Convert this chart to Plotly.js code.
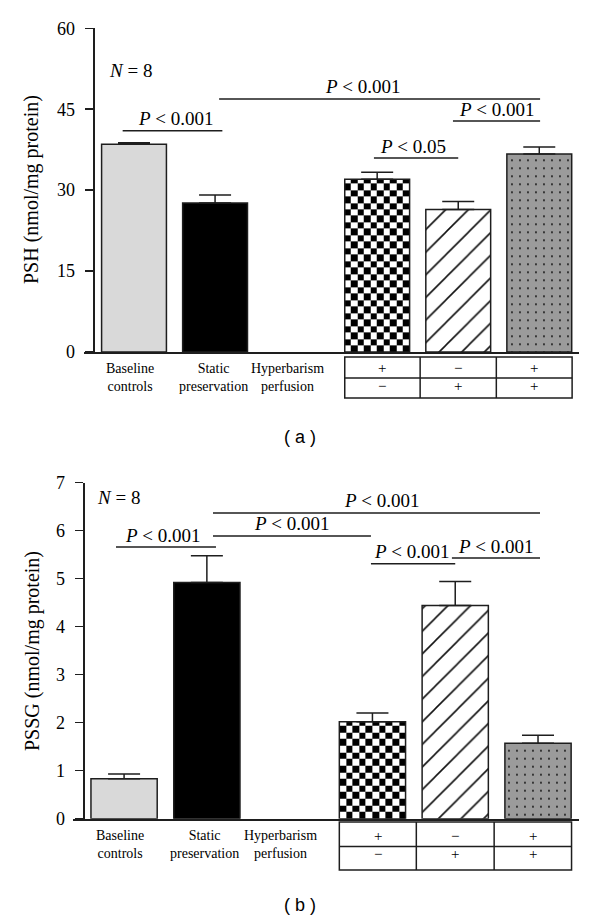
<!DOCTYPE html>
<html><head><meta charset="utf-8">
<script src="https://cdn.plot.ly/plotly-3.0.1.min.js"></script>
<style>html,body{margin:0;padding:0;background:#fff}#chart{width:600px;height:921px}</style>
</head><body><div id="chart"></div>
<script>
// ---------------- data ----------------
const groupLabels = ['Baseline<br>controls', 'Static<br>preservation', 'Hyperbarism<br>perfusion'];
const hyperbarismRow = ['+', '\u2212', '+'];
const perfusionRow = ['\u2212', '+', '+'];
const barIndex = [0, 1, 2, 3, 4, 5];
const pshMean = [38.5, 27.6, null, 32.0, 26.4, 36.7];
const pshSem  = [0.3, 1.5, null, 1.3, 1.5, 1.3];
const pssgMean = [0.83, 4.92, null, 2.02, 4.44, 1.57];
const pssgSem  = [0.10, 0.56, null, 0.18, 0.50, 0.17];
const pshTicks = [0, 15, 30, 45, 60];
const pssgTicks = [0, 1, 2, 3, 4, 5, 6, 7];
const pshComparisons = ['P < 0.001', 'P < 0.001', 'P < 0.001', 'P < 0.05'];
const pssgComparisons = ['P < 0.001', 'P < 0.001', 'P < 0.001', 'P < 0.001', 'P < 0.001'];

// ---------------- layout constants ----------------
const W = 600, H = 921;
const SERIF = "'Liberation Serif', 'Times New Roman', serif";
const INK = '#1e1e1e';
const panels = {
  top: {xDom: [84, 579], xRange: [-0.617, 5.49], yDom: [28.3, 352], yRange: [0, 60], yAxisPx: 92.7,
        xa: 'x', ya: 'y', tableRows: [357, 378, 398], textRows: [368, 386], labelY: 378, nY: 70, nX: 130.5, titleY: 190, tagY: 437},
  bot: {xDom: [73, 579], xRange: [-0.617, 5.495], yDom: [482.7, 818.7], yRange: [0, 7], yAxisPx: 82.7,
        xa: 'x2', ya: 'y2', tableRows: [822, 846.5, 870], textRows: [835.5, 853.5], labelY: 844, nY: 497, nX: 118.5, titleY: 651, tagY: 905}
};
const tableEdges = [2.6, 3.53, 4.47, 5.405];
const labelShift = [-4, -2, -9];
// bracket geometry (x0, x1, level, text x) per comparison
const pshBrackets = [[-0.14, 1.09, 41.0, 0.52], [1.05, 5.01, 46.9, 2.82], [3.935, 5.01, 42.8, 4.48], [2.96, 4.0, 35.96, 3.44]];
const pssgBrackets = [[-0.098, 1.11, 5.66, 0.47], [1.074, 2.982, 5.89, 2.03], [1.074, 5.024, 6.37, 3.12], [2.982, 4.0, 5.31, 3.48], [3.96, 5.024, 5.43, 4.49]];

const px2paperX = px => px / W;
const py2paperY = py => 1 - py / H;
function dataXToPx(p, v) { return p.xDom[0] + (v - p.xRange[0]) / (p.xRange[1] - p.xRange[0]) * (p.xDom[1] - p.xDom[0]); }
function pxPerX(p) { return (p.xDom[1] - p.xDom[0]) / (p.xRange[1] - p.xRange[0]); }
function pxPerY(p) { return (p.yDom[1] - p.yDom[0]) / (p.yRange[1] - p.yRange[0]); }

const BARW = 0.8;
const barStyles = [
  {fill: '#d9d9d9'},
  {fill: '#000000'},
  null,
  {fill: 'rgba(0,0,0,0)'},
  {fill: '#ffffff', shape: '/', fg: '#111111', size: 16, solidity: 0.1},
  {fill: '#9b9b9b', shape: '.', fg: '#111111', size: 8, solidity: 0.045}
];

function barTraces(p, means, sems) {
  const out = [];
  barIndex.forEach(i => {
    if (means[i] === null) return;
    const st = barStyles[i];
    const marker = {color: st.fill, line: {color: INK, width: 1.5}};
    if (st.shape) {
      marker.pattern = {shape: st.shape, fgcolor: st.fg, bgcolor: st.fill, size: st.size,
                        solidity: st.solidity, fillmode: 'replace'};
    }
    out.push({
      type: 'bar', x: [barIndex[i]], y: [means[i]], width: BARW, xaxis: p.xa, yaxis: p.ya, marker: marker,
      error_y: {type: 'data', symmetric: false, array: [sems[i]], arrayminus: [0],
                color: INK, thickness: 1.5, width: 16},
      hoverinfo: 'skip', showlegend: false
    });
  });
  return out;
}

// checkerboard fill of the 4th bar, drawn as a heatmap under the bar outline
function checkerTrace(p, means) {
  const idx = 3, value = means[idx];
  const nx = 10;
  const x0 = idx - BARW / 2, x1 = idx + BARW / 2;
  const xe = [];
  for (let i = 0; i <= nx; i++) xe.push(x0 + (x1 - x0) * i / nx);
  const cellPx = BARW * pxPerX(p) / nx;
  const cellY = cellPx / pxPerY(p);
  const ye = [];
  for (let k = 0; k * cellY < value - 1e-9; k++) ye.push(k * cellY);
  ye.push(value);
  const z = [];
  for (let r = 0; r < ye.length - 1; r++) {
    const row = [];
    for (let c = 0; c < nx; c++) row.push((r + c) % 2);
    z.push(row);
  }
  return {type: 'heatmap', x: xe, y: ye, z: z, zmin: 0, zmax: 1,
          colorscale: [[0, '#ffffff'], [1, '#000000']], showscale: false,
          xaxis: p.xa, yaxis: p.ya, hoverinfo: 'skip'};
}

function pText(s) { return s.replace('<', '&lt;').replace(/^P/, '<i>P</i>'); }

const shapes = [], annotations = [];

function addPanel(p, comps, brackets, yTitle, tag) {
  brackets.forEach((b, i) => {
    shapes.push({type: 'line', xref: p.xa, yref: p.ya, x0: b[0], x1: b[1], y0: b[2], y1: b[2],
                 line: {color: INK, width: 1.5}});
    annotations.push({xref: p.xa, yref: p.ya, x: b[3], y: b[2], yanchor: 'middle', xanchor: 'center',
                      yshift: 12, showarrow: false, text: pText(comps[i]),
                      font: {family: SERIF, size: 19, color: '#000'}});
  });
  groupLabels.forEach((t, i) => {
    annotations.push({xref: 'paper', yref: 'paper', x: px2paperX(dataXToPx(p, i) + labelShift[i]),
                      y: py2paperY(p.labelY), xanchor: 'center', yanchor: 'middle', showarrow: false,
                      text: t, font: {family: SERIF, size: 14, color: '#000'}});
  });
  const ex = tableEdges.map(v => px2paperX(dataXToPx(p, v)));
  const ry = p.tableRows.map(py2paperY);
  shapes.push({type: 'rect', xref: 'paper', yref: 'paper', x0: ex[0], x1: ex[3], y0: ry[0], y1: ry[2],
               line: {color: INK, width: 1.5}});
  shapes.push({type: 'line', xref: 'paper', yref: 'paper', x0: ex[0], x1: ex[3], y0: ry[1], y1: ry[1],
               line: {color: INK, width: 1.5}});
  [1, 2].forEach(k => shapes.push({type: 'line', xref: 'paper', yref: 'paper', x0: ex[k], x1: ex[k],
               y0: ry[0], y1: ry[2], line: {color: INK, width: 1.5}}));
  [hyperbarismRow, perfusionRow].forEach((row, r) => {
    row.forEach((s, c) => {
      annotations.push({xref: 'paper', yref: 'paper', x: (ex[c] + ex[c + 1]) / 2, y: py2paperY(p.textRows[r]),
                        xanchor: 'center', yanchor: 'middle', showarrow: false, text: s,
                        font: {family: SERIF, size: 15, color: '#000000'}});
    });
  });
  annotations.push({xref: 'paper', yref: 'paper', x: px2paperX(p.nX), y: py2paperY(p.nY), xanchor: 'center',
                    yanchor: 'middle', showarrow: false, text: '<i>N</i> = 8',
                    font: {family: SERIF, size: 19, color: '#000'}});
  annotations.push({xref: 'paper', yref: 'paper', x: px2paperX(32), y: py2paperY(p.titleY), xanchor: 'center',
                    yanchor: 'middle', showarrow: false, textangle: -90, text: yTitle,
                    font: {family: SERIF, size: 20, color: '#000'}});
  annotations.push({xref: 'paper', yref: 'paper', x: 0.5, y: py2paperY(p.tagY), xanchor: 'center',
                    yanchor: 'middle', showarrow: false, text: tag,
                    font: {family: "'Liberation Sans', Arial, sans-serif", size: 18, color: '#000'}});
}

addPanel(panels.top, pshComparisons, pshBrackets, 'PSH (nmol/mg protein)', '( a )');
addPanel(panels.bot, pssgComparisons, pssgBrackets, 'PSSG (nmol/mg protein)', '( b )');

function xAxis(p) {
  return {domain: [p.xDom[0] / W, p.xDom[1] / W], range: p.xRange, anchor: p.ya, showline: true,
          linecolor: INK, linewidth: 1.8, ticks: '', showticklabels: false, showgrid: false, zeroline: false};
}
function yAxis(p, ticks) {
  return {domain: [py2paperY(p.yDom[1]), py2paperY(p.yDom[0])], range: p.yRange, anchor: 'free',
          position: p.yAxisPx / W, showline: true, linecolor: INK, linewidth: 1.8, ticks: 'outside',
          ticklen: 8, tickwidth: 1.5, tickcolor: INK, tickvals: ticks, ticktext: ticks.map(String),
          showgrid: false, zeroline: false, ticklabelstandoff: 6,
          tickfont: {family: SERIF, size: 18, color: '#000'}};
}

const data = [checkerTrace(panels.top, pshMean)]
  .concat(barTraces(panels.top, pshMean, pshSem))
  .concat([checkerTrace(panels.bot, pssgMean)])
  .concat(barTraces(panels.bot, pssgMean, pssgSem));

const layout = {
  width: W, height: H, margin: {l: 0, r: 0, t: 0, b: 0},
  paper_bgcolor: '#fff', plot_bgcolor: 'rgba(0,0,0,0)', showlegend: false, barmode: 'overlay',
  font: {family: SERIF, color: '#000'},
  xaxis: xAxis(panels.top), yaxis: yAxis(panels.top, pshTicks),
  xaxis2: xAxis(panels.bot), yaxis2: yAxis(panels.bot, pssgTicks),
  shapes: shapes, annotations: annotations
};

Plotly.newPlot('chart', data, layout, {displayModeBar: false, staticPlot: true});
</script>
</body></html>
